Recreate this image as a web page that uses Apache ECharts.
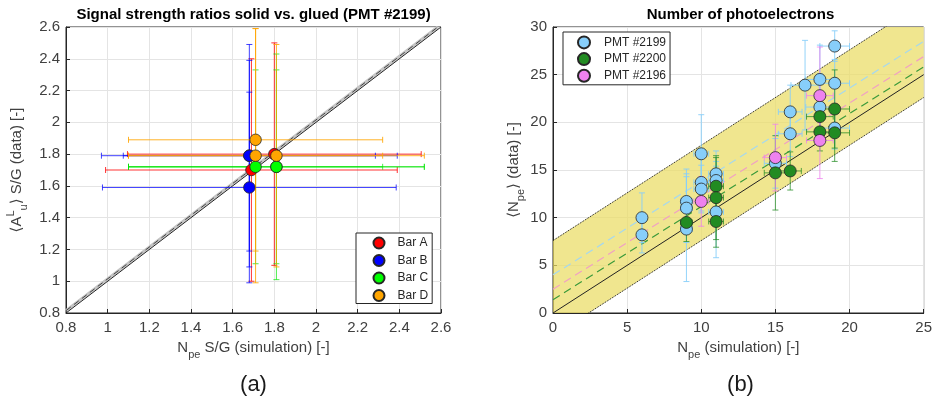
<!DOCTYPE html>
<html>
<head>
<meta charset="utf-8">
<script src="https://cdn.jsdelivr.net/npm/echarts@6/dist/echarts.min.js"></script>
<style>
html, body { margin: 0; padding: 0; background: #fff; }
#chart { width: 935px; height: 402px; }
</style>
</head>
<body>
<div id="chart"></div>
<script>
// ---- (a) signal strength ratios, each point: [x, y, xErr, yErr]
var barA = [[1.69, 1.70, 0.70, 0.70], [1.80, 1.80, 0.705, 0.70]];
var barB = [[1.68, 1.79, 0.71, 0.70], [1.68, 1.79, 0.605, 0.60], [1.68, 1.59, 0.705, 0.60]];
var barC = [[1.71, 1.72, 0.61, 0.61], [1.81, 1.72, 0.71, 0.71], [1.81, 1.72, 0.71, 0.61]];
var barD = [[1.71, 1.89, 0.61, 0.70], [1.71, 1.79, 0.61, 0.80], [1.81, 1.79, 0.71, 0.70]];
var diagA = [[0.8, 0.8], [2.6, 2.6]];
var fitA = [[0.8, 0.815], [2.585, 2.6]];

// ---- (b) number of photoelectrons, each point: [x, y, xErr, yErr]
var pmt2199 = [
  [6, 10.0, 0.3, 2.6], [6, 8.2, 0.3, 1.9],
  [9, 11.7, 0.4, 3.4], [9, 11.0, 0.4, 3.6], [9, 8.8, 0.4, 5.5],
  [10, 16.7, 0.5, 4.1], [10, 13.7, 0.5, 3.0], [10, 13.0, 0.5, 2.5],
  [11, 14.6, 0.5, 2.4], [11, 13.9, 0.5, 2.0], [11, 10.6, 0.5, 4.8],
  [15, 15.7, 0.75, 2.6], [16, 21.1, 0.8, 2.8], [16, 18.8, 0.8, 2.4],
  [17, 23.9, 0.95, 4.7], [18, 24.5, 0.95, 3.6], [18, 21.6, 0.95, 3.5],
  [19, 28.0, 1.0, 1.6], [19, 24.1, 1.0, 2.5], [19, 19.4, 1.0, 2.2]
];
var pmt2200 = [
  [9, 9.5, 0.4, 2.0], [11, 13.3, 0.5, 3.0], [11, 12.1, 0.5, 4.4], [11, 9.6, 0.5, 2.7],
  [15, 14.7, 0.75, 3.9], [16, 14.9, 0.75, 2.0], [18, 20.6, 0.9, 2.5], [18, 19.0, 0.9, 2.0],
  [19, 21.4, 1.0, 4.1], [19, 18.9, 1.0, 3.0]
];
var pmt2196 = [[10, 11.7, 0.5, 2.6], [15, 16.3, 0.75, 3.5], [18, 22.8, 0.9, 5.1], [18, 18.1, 0.9, 4.0]];
var bandX = [0, 25];
var bandLower = [-2.4, 22.6];
var bandUpper = [7.6, 32.6];
var fit2199 = [[0, 4.0], [25, 28.5]];
var fit2196 = [[0, 2.5], [25, 26.9]];
var fit2200 = [[0, 1.4], [25, 25.8]];
var diagB = [[0, 0], [25, 25]];

var FONT = "'Liberation Sans', Arial, 'DejaVu Sans', sans-serif";
var TXT = '#404040';
var EDGE = '#262626';

function errorBars(color, cap) {
  return function (params, api) {
    var x = api.value(0), y = api.value(1), ex = api.value(2), ey = api.value(3);
    var l = api.coord([x - ex, y]), r = api.coord([x + ex, y]);
    var lo = api.coord([x, y - ey]), hi = api.coord([x, y + ey]);
    var st = { stroke: color, lineWidth: 1, fill: null };
    function seg(x1, y1, x2, y2) {
      return { type: 'line', shape: { x1: x1, y1: y1, x2: x2, y2: y2 }, style: st };
    }
    return { type: 'group', children: [
      seg(l[0], l[1], r[0], r[1]),
      seg(l[0], l[1] - cap, l[0], l[1] + cap),
      seg(r[0], r[1] - cap, r[0], r[1] + cap),
      seg(lo[0], lo[1], hi[0], hi[1]),
      seg(lo[0] - cap, lo[1], lo[0] + cap, lo[1]),
      seg(hi[0] - cap, hi[1], hi[0] + cap, hi[1])
    ]};
  };
}

function errSeries(name, data, color, idx) {
  return {
    name: name, type: 'custom', xAxisIndex: idx, yAxisIndex: idx,
    renderItem: errorBars(color, 3), data: data, encode: { x: 0, y: 1 }, z: 3, silent: true
  };
}
function dotSeries(name, data, color, idx, size) {
  return {
    name: name, type: 'scatter', xAxisIndex: idx, yAxisIndex: idx, data: data,
    encode: { x: 0, y: 1 }, symbolSize: size, z: 5,
    itemStyle: { color: color, borderColor: EDGE, borderWidth: 0.8, opacity: 1 }
  };
}
function lineSeries(data, color, type, width, idx, z) {
  return {
    type: 'line', xAxisIndex: idx, yAxisIndex: idx, data: data, showSymbol: false, symbol: 'none',
    lineStyle: { color: color, type: type, width: width }, z: z, silent: true, clip: true
  };
}

function axisCommon(min, max, interval, gridIndex) {
  return {
    type: 'value', gridIndex: gridIndex, min: min, max: max, interval: interval,
    axisLine: { show: true, lineStyle: { color: EDGE, width: 1 } },
    axisTick: { show: true, inside: true, length: 4, lineStyle: { color: EDGE } },
    axisLabel: { color: TXT, fontSize: 15, fontFamily: FONT },
    splitLine: { show: true, lineStyle: { color: '#e4e4e4', width: 1 } }
  };
}

var richName = {
  n: { fontSize: 15, fontFamily: FONT, color: TXT, lineHeight: 24, verticalAlign: 'middle' },
  sub: { fontSize: 11, fontFamily: FONT, color: TXT, lineHeight: 13, verticalAlign: 'bottom' },
  sup: { fontSize: 11, fontFamily: FONT, color: TXT, lineHeight: 13, verticalAlign: 'top' }
};

var xA = axisCommon(0.8, 2.6, 0.2, 0);
xA.name = '{n|N}{sub|pe}{n| S/G (simulation) [-]}';
xA.nameLocation = 'middle'; xA.nameGap = 23; xA.nameTextStyle = { rich: richName };
xA.axisLabel.margin = 7;
var yA = axisCommon(0.8, 2.6, 0.2, 0);
yA.name = '{n|\u27E8A}{sup|L}{sub|u}{n|\u27E9 S/G (data) [-]}';
yA.nameLocation = 'middle'; yA.nameGap = 37; yA.nameTextStyle = { rich: richName };
yA.axisLabel.margin = 6;

var xB = axisCommon(0, 25, 5, 1);
xB.name = '{n|N}{sub|pe}{n| (simulation) [-]}';
xB.nameLocation = 'middle'; xB.nameGap = 23; xB.nameTextStyle = { rich: richName };
xB.axisLabel.margin = 7;
var yB = axisCommon(0, 30, 5, 1);
yB.name = '{n|\u27E8N}{sub|pe}{n|\u27E9 (data) [-]}';
yB.nameLocation = 'middle'; yB.nameGap = 27; yB.nameTextStyle = { rich: richName };
yB.axisLabel.margin = 6;

var chart = echarts.init(document.getElementById('chart'), null, { renderer: 'canvas' });

var option = {
  animation: false,
  backgroundColor: '#fff',
  textStyle: { fontFamily: FONT },
  grid: [
    { left: 66, right: 494, top: 27, bottom: 89, show: true, borderColor: EDGE, borderWidth: 1, backgroundColor: 'transparent' },
    { left: 553, right: 7, top: 27, bottom: 89, show: true, borderColor: EDGE, borderWidth: 1, backgroundColor: 'transparent' }
  ],
  xAxis: [xA, xB],
  yAxis: [yA, yB],
  legend: [
    {
      data: ['Bar A', 'Bar B', 'Bar C', 'Bar D'], orient: 'vertical', left: 356, top: 233,
      icon: 'circle', itemWidth: 11, itemHeight: 11, itemGap: 3.5, padding: [3, 4, 1, 16.5],
      borderColor: EDGE, borderWidth: 1, backgroundColor: '#fff',
      textStyle: { fontSize: 12, color: EDGE, fontFamily: FONT, lineHeight: 14, padding: [0, 0, 0, 8] }
    },
    {
      data: ['PMT #2199', 'PMT #2200', 'PMT #2196'], orient: 'vertical', left: 563, top: 32,
      icon: 'circle', itemWidth: 12, itemHeight: 12, itemGap: 2.7, padding: [3.4, 4, 2, 14],
      borderColor: EDGE, borderWidth: 1, backgroundColor: '#fff',
      textStyle: { fontSize: 12, color: EDGE, fontFamily: FONT, lineHeight: 14, padding: [0, 0, 0, 9] }
    }
  ],
  graphic: [
    { type: 'text', x: 253.5, y: 15, style: { text: 'Signal strength ratios solid vs. glued (PMT #2199)', font: 'bold 15px ' + FONT, fill: '#000', textAlign: 'center', textVerticalAlign: 'middle' } },
    { type: 'text', x: 740.5, y: 15, style: { text: 'Number of photoelectrons', font: 'bold 15px ' + FONT, fill: '#000', textAlign: 'center', textVerticalAlign: 'middle' } },
    { type: 'text', x: 253.5, y: 385, style: { text: '(a)', font: '22px ' + FONT, fill: '#1a1a1a', textAlign: 'center', textVerticalAlign: 'middle' } },
    { type: 'text', x: 740.5, y: 385, style: { text: '(b)', font: '22px ' + FONT, fill: '#1a1a1a', textAlign: 'center', textVerticalAlign: 'middle' } }
  ],
  series: [
    // (a)
    lineSeries(fitA, '#c4c4c4', 'solid', 3, 0, 1),
    lineSeries(fitA, '#444', [6, 4], 1, 0, 1),
    lineSeries(diagA, '#222', 'solid', 1, 0, 1),
    errSeries('Bar A err', barA, 'rgba(255,0,0,0.8)', 0),
    errSeries('Bar B err', barB, 'rgba(0,0,255,0.75)', 0),
    errSeries('Bar C err', barC, 'rgba(0,230,0,0.7)', 0),
    errSeries('Bar D err', barD, 'rgba(255,165,0,0.85)', 0),
    dotSeries('Bar A', barA, '#ff0000', 0, 11.5),
    dotSeries('Bar B', barB, '#0000ff', 0, 11.5),
    dotSeries('Bar C', barC, '#00ff00', 0, 11.5),
    dotSeries('Bar D', barD, '#ffa500', 0, 11.5),
    // (b) band
    {
      type: 'custom', xAxisIndex: 1, yAxisIndex: 1, data: [[bandX[0], bandLower[0]]], clip: true, z: 1, silent: true,
      renderItem: function (params, api) {
        var pts = [];
        for (var i = 0; i < bandX.length; i++) pts.push(api.coord([bandX[i], bandLower[i]]));
        for (var j = bandX.length - 1; j >= 0; j--) pts.push(api.coord([bandX[j], bandUpper[j]]));
        return { type: 'polygon', shape: { points: pts }, style: { fill: 'rgba(234,220,100,0.72)', stroke: null } };
      }
    },
    lineSeries(bandX.map(function (x, i) { return [x, bandLower[i]]; }), '#111', 'dotted', 1, 1, 2),
    lineSeries(bandX.map(function (x, i) { return [x, bandUpper[i]]; }), '#111', 'dotted', 1, 1, 2),
    lineSeries(fit2199, '#a6d8ee', [8, 5], 1.2, 1, 2),
    lineSeries(fit2196, '#f0a0c4', [8, 5], 1.2, 1, 2),
    lineSeries(fit2200, '#3a9a3a', [8, 5], 1.2, 1, 2),
    lineSeries(diagB, '#222', 'solid', 1, 1, 2),
    errSeries('PMT #2199 err', pmt2199, 'rgba(135,206,250,0.9)', 1),
    errSeries('PMT #2200 err', pmt2200, 'rgba(34,139,34,0.75)', 1),
    errSeries('PMT #2196 err', pmt2196, 'rgba(238,130,238,0.8)', 1),
    dotSeries('PMT #2199', pmt2199, '#87cefa', 1, 12),
    dotSeries('PMT #2200', pmt2200, '#228b22', 1, 12),
    dotSeries('PMT #2196', pmt2196, '#ee82ee', 1, 12)
  ]
};

chart.setOption(option);
</script>
</body>
</html>
